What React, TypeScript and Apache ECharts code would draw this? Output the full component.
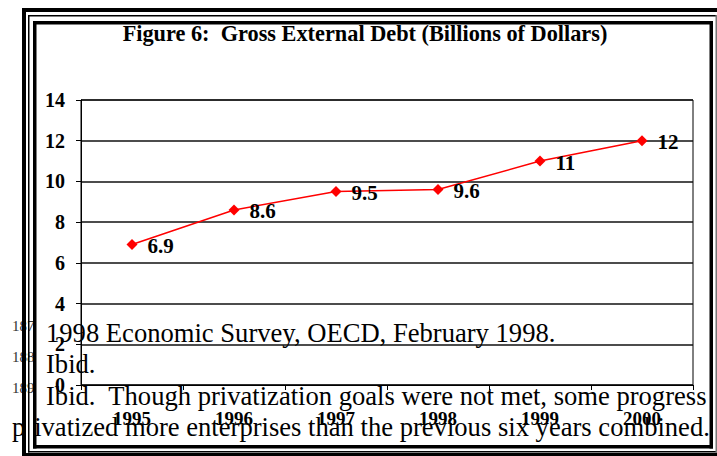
import React, { useEffect, useRef } from "react";
import * as echarts from "echarts";

const categories = ["1995", "1996", "1997", "1998", "1999", "2000"];
const debtValues = [6.9, 8.6, 9.5, 9.6, 11, 12];
const yMin = 0;
const yMax = 14;
const yStep = 2;
const chartTitle = "Figure 6:  Gross External Debt (Billions of Dollars)";
const footnoteMarks = ["187", "188", "189"];
const footnoteLines = [
  "1998 Economic Survey, OECD, February 1998.",
  "Ibid.",
  "Ibid.  Though privatization goals were not met, some progress",
  "privatized more enterprises than the previous six years combined.",
];

const SERIF = "Liberation Serif, Times New Roman, serif";

export default function App() {
  const ref = useRef<HTMLDivElement>(null);
  useEffect(() => {
    document.body.style.margin = "0";
    const chart = echarts.init(ref.current!, null, { renderer: "svg" });

    const lineCenters = [333, 364, 396, 427];
    const lineX = [46, 46, 46, 12];
    const markCenters = [326, 357, 388];

    const texts: any[] = footnoteLines.map((t, i) => ({
      type: "text",
      z: 50,
      silent: true,
      style: {
        text: t,
        x: lineX[i],
        y: lineCenters[i],
        font: `26.6px ${SERIF}`,
        fill: "#000",
        textAlign: "left",
        textVerticalAlign: "middle",
      },
    }));
    footnoteMarks.forEach((m, i) =>
      texts.push({
        type: "text",
        z: 65,
        silent: true,
        style: {
          text: m,
          x: 12,
          y: markCenters[i],
          font: `15px ${SERIF}`,
          fill: "#333",
          textAlign: "left",
          textVerticalAlign: "middle",
        },
      })
    );

    const rect = (x: number, y: number, w: number, h: number, fill: string, z: number) => ({
      type: "rect",
      z,
      silent: true,
      shape: { x, y, width: w, height: h },
      style: { fill },
    });

    const frame: any[] = [
      rect(22, 8, 14, 448, "#fff", 60),
      rect(709, 8, 8, 448, "#fff", 60),
      rect(22, 445, 695, 11, "#fff", 60),
      rect(22, 8, 4, 448, "#000", 70),
      rect(22, 8, 695, 4, "#000", 70),
      rect(22, 453, 695, 4, "#000", 70),
      rect(28, 15, 1.5, 437.5, "#000", 70),
      rect(28, 15, 689, 1.5, "#000", 70),
      rect(28, 451, 689, 1.5, "#000", 70),
      rect(715.5, 15, 1.5, 437.5, "#777", 70),
      rect(33, 21, 3.5, 427.5, "#000", 70),
      rect(33, 21, 680, 3.5, "#000", 70),
      rect(709.5, 21, 3.5, 427.5, "#000", 70),
      rect(33, 445, 680, 3.5, "#000", 70),
    ];

    chart.setOption({
      animation: false,
      backgroundColor: "#fff",
      title: {
        text: chartTitle,
        left: 365,
        top: 22,
        padding: 0,
        textAlign: "center",
        textStyle: {
          fontFamily: SERIF,
          fontWeight: "bold",
          fontSize: 22.3,
          color: "#000",
        },
      },
      grid: {
        left: 81,
        right: 24,
        top: 100,
        bottom: 71,
        show: true,
        borderColor: "#000",
        borderWidth: 1,
        containLabel: false,
      },
      xAxis: {
        type: "category",
        data: categories,
        boundaryGap: true,
        axisLine: { show: true, lineStyle: { color: "#000", width: 1 } },
        axisTick: { show: true, length: 5, alignWithLabel: false, lineStyle: { color: "#000" } },
        axisLabel: {
          margin: 24,
          fontFamily: SERIF,
          fontWeight: "bold",
          fontSize: 19,
          color: "#000",
        },
        splitLine: { show: false },
      },
      yAxis: {
        type: "value",
        min: yMin,
        max: yMax,
        interval: yStep,
        axisLine: { show: true, lineStyle: { color: "#000", width: 1 } },
        axisTick: { show: true, length: 5, lineStyle: { color: "#000" } },
        axisLabel: {
          margin: 16,
          fontFamily: SERIF,
          fontWeight: "bold",
          fontSize: 20,
          color: "#000",
        },
        splitLine: { show: true, lineStyle: { color: "#111", width: 1.5 } },
      },
      series: [
        {
          type: "line",
          data: debtValues,
          symbol: "diamond",
          symbolSize: 11,
          itemStyle: { color: "#ff0000" },
          lineStyle: { color: "#ff0000", width: 1.5 },
          label: {
            show: true,
            position: "right",
            offset: [5, 1.5],
            fontFamily: SERIF,
            fontWeight: "bold",
            fontSize: 21,
            color: "#000",
          },
          z: 5,
        },
      ],
      graphic: { elements: [...texts, ...frame] },
    });
    return () => chart.dispose();
  }, []);
  return (
    <div
      ref={ref}
      style={{ position: "absolute", left: 0, top: 0, width: 717, height: 456, background: "#fff" }}
    />
  );
}
